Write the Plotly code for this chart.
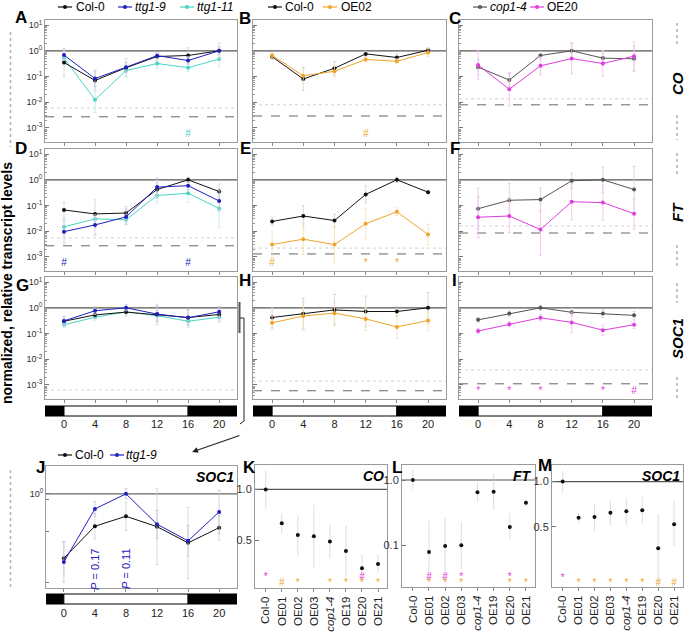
import plotly.graph_objects as go
import numpy as np

W, H = 686, 639
FONT = 'Liberation Sans, Arial, sans-serif'

hours = [0, 4, 8, 12, 16, 20]

# ---------------- CO (A-C) ----------------
co_col0_A = [0.35, 0.070, 0.22, 0.60, 0.66, 1.00]
co_ttg19 = [0.68, 0.083, 0.23, 0.65, 0.42, 1.00]
co_ttg111 = [0.52, 0.0125, 0.17, 0.32, 0.22, 0.48]
co_col0_B = [0.59, 0.080, 0.21, 0.76, 0.55, 1.05]
co_OE02 = [0.66, 0.107, 0.16, 0.46, 0.39, 0.86]
co_cop14 = [0.23, 0.073, 0.66, 1.00, 0.52, 0.49]
co_OE20 = [0.28, 0.032, 0.26, 0.50, 0.32, 0.62]
# error half-widths (decades)
co_col0_A_err = [0.55, 0.40, 0.35, 0.15, 0.30, 0.30]
co_ttg19_err = [0.20, 0.30, 0.20, 0.10, 0.15, 0.15]
co_ttg111_err = [0.25, 0.50, 0.25, 0.20, 0.15, 0.30]
co_col0_B_err = [0.10, 0.45, 0.25, 0.10, 0.15, 0.10]
co_OE02_err = [0.10, 0.30, 0.20, 0.10, 0.10, 0.15]
co_cop14_err = [0.30, 0.25, 0.15, 0.30, 0.30, 0.50]
co_OE20_err = [0.55, 0.65, 0.35, 0.60, 0.50, 0.55]

# ---------------- FT (D-F) ----------------
ft_col0_D = [0.067, 0.047, 0.051, 0.42, 1.00, 0.35]
ft_ttg19 = [0.0096, 0.0175, 0.036, 0.52, 0.59, 0.15]
ft_ttg111 = [0.0147, 0.030, 0.028, 0.245, 0.30, 0.077]
ft_col0_E = [0.024, 0.039, 0.026, 0.27, 1.00, 0.33]
ft_OE02 = [0.0030, 0.0049, 0.0030, 0.0196, 0.057, 0.0075]
ft_cop14 = [0.075, 0.16, 0.17, 0.92, 1.00, 0.42]
ft_OE20 = [0.035, 0.039, 0.0116, 0.14, 0.13, 0.048]
ft_col0_D_err = [0.30, 0.55, 0.25, 0.35, 0.10, 0.30]
ft_ttg19_err = [0.45, 0.40, 0.30, 0.35, 0.15, 0.40]
ft_ttg111_err = [0.30, 0.25, 0.15, 0.30, 0.35, 0.75]
ft_col0_E_err = [0.17, 0.40, 0.25, 0.33, 0.10, 0.08]
ft_OE02_err = [0.50, 0.60, 0.70, 0.60, 0.15, 0.40]
ft_cop14_err = [0.80, 0.65, 0.45, 0.30, 0.50, 0.90]
ft_OE20_err = [0.80, 0.65, 1.00, 0.70, 0.68, 0.60]

# ---------------- SOC1 (G-I) ----------------
soc_col0_G = [0.30, 0.53, 0.68, 0.55, 0.42, 0.55]
soc_ttg19 = [0.31, 0.77, 1.00, 0.57, 0.41, 0.70]
soc_ttg111 = [0.22, 0.43, 0.70, 0.49, 0.30, 0.43]
soc_col0_H = [0.42, 0.59, 0.83, 0.72, 0.72, 1.00]
soc_OE02 = [0.26, 0.48, 0.62, 0.37, 0.18, 0.32]
soc_cop14 = [0.34, 0.60, 1.00, 0.67, 0.60, 0.51]
soc_OE20 = [0.125, 0.23, 0.41, 0.27, 0.135, 0.22]
soc_col0_G_err = [0.20, 0.15, 0.15, 0.40, 0.30, 0.30]
soc_ttg19_err = [0.15, 0.15, 0.12, 0.30, 0.30, 0.20]
soc_ttg111_err = [0.12, 0.12, 0.10, 0.20, 0.25, 0.15]
soc_col0_H_err = [0.40, 0.60, 0.60, 0.60, 0.20, 0.60]
soc_OE02_err = [0.25, 0.55, 0.40, 0.45, 0.45, 0.40]
soc_cop14_err = [0.10, 0.10, 0.10, 0.15, 0.15, 0.15]
soc_OE20_err = [0.10, 0.10, 0.12, 0.40, 0.20, 0.15]

# ---------------- J: SOC1 zoom ----------------
j_col0 = [0.31, 0.555, 0.665, 0.55, 0.41, 0.54]
j_ttg19 = [0.29, 0.76, 1.00, 0.575, 0.425, 0.72]
j_col0_err = [0.13, 0.10, 0.11, 0.30, 0.28, 0.10]
j_ttg19_err = [0.16, 0.06, 0.04, 0.11, 0.12, 0.17]
j_pvals = [(4, '0.17'), (8, '0.11')]

# ---------------- K-M: lines ----------------
lines = ['Col-0', 'OE01', 'OE02', 'OE03', '<i>cop1-4</i>', 'OE19', 'OE20', 'OE21']
K_co = [1.0, 0.63, 0.535, 0.527, 0.49, 0.43, 0.34, 0.36]
K_hi = [1.29, 0.72, 0.70, 0.81, 0.62, 0.61, 0.41, 0.41]
K_lo = [0.77, 0.55, 0.40, 0.34, 0.39, 0.30, 0.29, 0.32]
L_ft = [1.0, 0.079, 0.097, 0.10, 0.65, 0.66, 0.19, 0.45]
L_hi = [1.43, 0.24, 0.26, 0.23, 0.91, 1.27, 0.31, 0.52]
L_lo = [0.72, 0.029, 0.027, 0.043, 0.46, 0.35, 0.12, 0.39]
M_soc = [1.0, 0.574, 0.58, 0.62, 0.634, 0.644, 0.36, 0.52]
M_hi = [1.18, 0.62, 0.71, 0.74, 0.77, 0.79, 0.61, 0.74]
M_lo = [0.84, 0.53, 0.47, 0.51, 0.51, 0.52, 0.21, 0.37]

# significance marks: (panel, x, symbol, colour key)
sig_time = [
    (1, 16, '#', 'turq'),
    (2, 12, '#', 'orange'),
    (4, 0, '#', 'blue'), (4, 16, '#', 'blue'),
    (5, 0, '#', 'orange'), (5, 12, '*', 'orange'), (5, 16, '*', 'orange'),
    (9, 0, '*', 'mag'), (9, 4, '*', 'mag'), (9, 8, '*', 'mag'), (9, 16, '*', 'mag'), (9, 20, '#', 'mag'),
]
sig_K_mag = [(0, '*'), (6, '#')]
sig_K_org = [(1, '#'), (2, '*'), (4, '*'), (5, '*'), (6, '*'), (7, '*')]
sig_L_mag = [(1, '#'), (2, '#'), (3, '*'), (6, '*')]
sig_L_org = [(1, '*'), (2, '*'), (3, '*'), (6, '*'), (7, '*')]
sig_M_mag = [(0, '*')]
sig_M_org = [(1, '*'), (2, '*'), (3, '*'), (4, '*'), (5, '*'), (6, '#'), (7, '#')]

# detection-limit reference levels per time panel (dashed, dotted)
dashed_lvl = {1: 2.7e-3, 2: 2.9e-3, 3: 7.9e-3, 4: 2.7e-3, 5: 1.3e-3, 6: 8.5e-3, 8: 5.9e-4, 9: 1.1e-3}
dotted_lvl = {1: 6.0e-3, 2: 7.9e-3, 3: 1.35e-2, 4: 5.5e-3, 5: 2.2e-3, 6: 1.6e-2, 7: 6.3e-4, 8: 1.4e-3, 9: 3.8e-3}

# legends: (panel group, entries)
legend_entries = {
    'A': [('Col-0', 'black'), ('<i>ttg1-9</i>', 'blue'), ('<i>ttg1-11</i>', 'turq')],
    'B': [('Col-0', 'black'), ('OE02', 'orange')],
    'C': [('<i>cop1-4</i>', 'gray'), ('OE20', 'mag')],
    'J': [('Col-0', 'black'), ('<i>ttg1-9</i>', 'blue')],
}

C = dict(black='#111111', blue='#2020c0', turq='#48d4c4', orange='#f0a428', gray='#555555', mag='#e03ce0')
EC = dict(black='#d2d2d2', blue='#c4c4ea', turq='#bdeee8', orange='#f7ddb0', gray='#d2d2d2', mag='#f3bcf3')

# panel boxes in px (x0, x1, y0, y1)
boxes = {1: (45, 237, 20, 142), 2: (253, 446, 20, 142), 3: (459, 652, 20, 142),
         4: (45, 237, 149, 271), 5: (253, 446, 149, 271), 6: (459, 652, 149, 271),
         7: (45, 237, 277, 399), 8: (253, 446, 277, 399), 9: (459, 652, 277, 399),
         10: (46, 237, 466, 588), 11: (255, 387, 465, 588), 12: (402, 535, 465, 587), 13: (552, 683, 465, 587)}

XR_T = [-2.45, 22.3]
XR_J = [-2.3, 22.3]
XR_C = [-0.67, 7.56]

fig = go.Figure()


def an(i):
    return '' if i == 1 else str(i)


def add_series(i, x, y, err, ck):
    y = np.array(y, dtype=float)
    e = np.array(err, dtype=float)
    fig.add_trace(go.Scatter(
        x=x, y=y, mode='lines+markers',
        line=dict(color=C[ck], width=1), marker=dict(color=C[ck], size=4),
        error_y=dict(type='data', symmetric=False, array=y * (10 ** e - 1), arrayminus=y * (1 - 10 ** (-e)),
                     color=EC[ck], thickness=0.8, width=1.5),
        xaxis='x' + an(i), yaxis='y' + an(i), showlegend=False))


def hline(i, xr, lvl, color, dash, width):
    fig.add_trace(go.Scatter(x=xr, y=[lvl, lvl], mode='lines', line=dict(color=color, dash=dash, width=width),
                             hoverinfo='skip', showlegend=False, xaxis='x' + an(i), yaxis='y' + an(i)))


# reference lines first (underneath)
for i in range(1, 10):
    hline(i, XR_T, 1.0, '#555555', 'solid', 1.2)
    if i in dashed_lvl:
        hline(i, XR_T, dashed_lvl[i], '#555555', 'dash', 0.9)
    if i in dotted_lvl:
        hline(i, XR_T, dotted_lvl[i], '#cccccc', 'dot', 0.9)
hline(10, XR_J, 1.0, '#666666', 'solid', 1.2)
for i in (11, 12, 13):
    hline(i, XR_C, 1.0, '#555555', 'solid', 1.2)

# A
add_series(1, hours, co_ttg111, co_ttg111_err, 'turq')
add_series(1, hours, co_col0_A, co_col0_A_err, 'black')
add_series(1, hours, co_ttg19, co_ttg19_err, 'blue')
# B
add_series(2, hours, co_col0_B, co_col0_B_err, 'black')
add_series(2, hours, co_OE02, co_OE02_err, 'orange')
# C
add_series(3, hours, co_cop14, co_cop14_err, 'gray')
add_series(3, hours, co_OE20, co_OE20_err, 'mag')
# D
add_series(4, hours, ft_ttg111, ft_ttg111_err, 'turq')
add_series(4, hours, ft_col0_D, ft_col0_D_err, 'black')
add_series(4, hours, ft_ttg19, ft_ttg19_err, 'blue')
# E
add_series(5, hours, ft_col0_E, ft_col0_E_err, 'black')
add_series(5, hours, ft_OE02, ft_OE02_err, 'orange')
# F
add_series(6, hours, ft_cop14, ft_cop14_err, 'gray')
add_series(6, hours, ft_OE20, ft_OE20_err, 'mag')
# G
add_series(7, hours, soc_ttg111, soc_ttg111_err, 'turq')
add_series(7, hours, soc_col0_G, soc_col0_G_err, 'black')
add_series(7, hours, soc_ttg19, soc_ttg19_err, 'blue')
# H
add_series(8, hours, soc_col0_H, soc_col0_H_err, 'black')
add_series(8, hours, soc_OE02, soc_OE02_err, 'orange')
# I
add_series(9, hours, soc_cop14, soc_cop14_err, 'gray')
add_series(9, hours, soc_OE20, soc_OE20_err, 'mag')
# J
add_series(10, hours, j_col0, j_col0_err, 'black')
add_series(10, hours, j_ttg19, j_ttg19_err, 'blue')

# significance in time panels
SIG_Y = 10 ** -3.24
for (i, x, s, ck) in sig_time:
    fig.add_trace(go.Scatter(x=[x], y=[SIG_Y], mode='text', text=[s], textposition='middle center',
                             textfont=dict(color=C[ck], size=10, family=FONT), showlegend=False,
                             hoverinfo='skip', xaxis='x' + an(i), yaxis='y' + an(i)))

# K-M dot plots
for i, vals, hi, lo in ((11, K_co, K_hi, K_lo), (12, L_ft, L_hi, L_lo), (13, M_soc, M_hi, M_lo)):
    v = np.array(vals); h = np.array(hi); l = np.array(lo)
    fig.add_trace(go.Scatter(x=list(range(len(lines))), y=v, mode='markers',
                             marker=dict(color='#111111', size=4),
                             error_y=dict(type='data', symmetric=False, array=h - v, arrayminus=v - l,
                                          color='#d4d4d4', thickness=0.8, width=0),
                             showlegend=False, xaxis='x' + an(i), yaxis='y' + an(i)))

for i, mag, org, ym, yo in ((11, sig_K_mag, sig_K_org, 0.30, 0.275), (12, sig_L_mag, sig_L_org, 0.0315, 0.0257),
                            (13, sig_M_mag, sig_M_org, 0.228, 0.209)):
    for lst, ck, yy in ((mag, 'mag', ym), (org, 'orange', yo)):
        fig.add_trace(go.Scatter(x=[p[0] for p in lst], y=[yy] * len(lst), mode='text', text=[p[1] for p in lst],
                                 textfont=dict(color=C[ck], size=10, family=FONT), showlegend=False,
                                 hoverinfo='skip', xaxis='x' + an(i), yaxis='y' + an(i)))

# ---------------- axes ----------------
lay = {}
dec_vals = [1e-3, 1e-2, 1e-1, 1e0, 1e1]
dec_text = ['10<sup>-3</sup>', '10<sup>-2</sup>', '10<sup>-1</sup>', '10<sup>0</sup>', '10<sup>1</sup>']
minor_vals = [m * 10.0 ** d for d in range(-4, 1) for m in range(2, 10)]

for i, (x0, x1, y0, y1) in boxes.items():
    xa = dict(domain=[x0 / W, x1 / W], anchor='y' + an(i), showline=True, mirror=True, linecolor='#9a9a9a',
              linewidth=1, showgrid=False, zeroline=False, ticks='outside', ticklen=3, tickcolor='#888',
              tickfont=dict(size=11, color='#222', family=FONT), fixedrange=True)
    ya = dict(domain=[1 - y1 / H, 1 - y0 / H], anchor='x' + an(i), type='log', showline=True, mirror=True,
              linecolor='#9a9a9a', linewidth=1, showgrid=False, zeroline=False, ticks='inside', ticklen=4,
              tickcolor='#777', tickfont=dict(size=9, color='#333', family=FONT), fixedrange=True)
    if i <= 9:
        xa.update(range=XR_T, tickmode='array', tickvals=hours, showticklabels=i >= 7, ticklabelstandoff=12)
        ya.update(range=[-3.55, 1.2], tickmode='array', tickvals=dec_vals, ticktext=dec_text,
                  showticklabels=i in (1, 4, 7),
                  minor=dict(tickmode='array', tickvals=minor_vals, ticks='inside', ticklen=2, tickcolor='#999'))
    elif i == 10:
        xa.update(range=XR_J, tickmode='array', tickvals=hours, ticklabelstandoff=12)
        ya.update(range=[-0.744, 0.22], tickmode='array', tickvals=[1], ticktext=['10<sup>0</sup>'],
                  minor=dict(tickmode='array', tickvals=[0.9, 0.5, 0.2], ticks='inside', ticklen=3,
                             tickcolor='#777'))
    else:
        xa.update(range=XR_C, tickmode='array', tickvals=list(range(len(lines))), ticktext=lines, tickangle=-90,
                  tickfont=dict(size=11.5, color='#222', family=FONT))
        if i == 11:
            ya.update(range=[-0.586, 0.145], tickvals=[1, 0.5], ticktext=['1.0', '0.5'])
        elif i == 12:
            ya.update(range=[-1.64, 0.23], tickvals=[1, 0.1], ticktext=['1.0', '0.1'])
        else:
            ya.update(range=[-0.702, 0.11], tickvals=[1, 0.5], ticktext=['1.0', '0.5'])
        ya.update(tickmode='array', tickfont=dict(size=11, color='#333', family=FONT))
    lay['xaxis' + an(i)] = xa
    lay['yaxis' + an(i)] = ya

# ---------------- shapes ----------------
shapes = []


def px(x):
    return x / W


def py(y):
    return 1 - y / H


# time bars
for i, xr, yb0, yb1 in ((7, XR_T, 406, 416), (8, XR_T, 406, 416), (9, XR_T, 406, 416), (10, XR_J, 594, 604)):
    xref = 'x' + an(i)
    shapes.append(dict(type='rect', xref=xref, yref='paper', x0=xr[0], x1=0, y0=py(yb1), y1=py(yb0),
                       fillcolor='black', line=dict(color='black', width=1)))
    shapes.append(dict(type='rect', xref=xref, yref='paper', x0=0, x1=16, y0=py(yb1), y1=py(yb0),
                       fillcolor='white', line=dict(color='black', width=1)))
    shapes.append(dict(type='rect', xref=xref, yref='paper', x0=16, x1=xr[1], y0=py(yb1), y1=py(yb0),
                       fillcolor='black', line=dict(color='black', width=1)))

# right-side dotted separators
for (a, b) in ((23, 47), (115, 140), (153, 177), (245, 268), (283, 303), (377, 398)):
    shapes.append(dict(type='line', xref='paper', yref='paper', x0=px(677), x1=px(677), y0=py(a), y1=py(b),
                       line=dict(color='#b0b0b0', width=1.5, dash='dot')))
# left dotted separators
for (a, b) in ((32, 147), (470, 590)):
    shapes.append(dict(type='line', xref='paper', yref='paper', x0=px(10.5), x1=px(10.5), y0=py(a), y1=py(b),
                       line=dict(color='#b0b0b0', width=1.5, dash='dot')))
# bracket on G
shapes.append(dict(type='line', xref='paper', yref='paper', x0=px(239.5), x1=px(239.5), y0=py(302), y1=py(333),
                   line=dict(color='#555', width=2)))
shapes.append(dict(type='path', xref='paper', yref='paper',
                   path='M {} {} L {} {} L {} {} L {} {}'.format(px(240), py(318), px(244), py(318), px(244),
                                                                  py(421), px(240), py(424)),
                   line=dict(color='#222', width=1)))

# ---------------- annotations ----------------
ann = []

# hand-drawn compact legends (symbol start x, text start x per entry; legend row y)
legend_layout = {'A': ([58, 118, 180], [74, 133, 195], 7), 'B': ([268, 323], [283, 339], 7),
                 'C': ([473, 530], [488, 545], 7), 'J': ([58, 110], [73, 124], 455)}
for key, entries in legend_entries.items():
    sx, tx, ly = legend_layout[key]
    for (name, ck), s0, t0 in zip(entries, sx, tx):
        shapes.append(dict(type='line', xref='paper', yref='paper', x0=px(s0), x1=px(s0 + 14), y0=py(ly), y1=py(ly),
                           line=dict(color=C[ck], width=1.2)))
        shapes.append(dict(type='circle', xref='paper', yref='paper', x0=px(s0 + 5), x1=px(s0 + 9),
                           y0=py(ly + 2), y1=py(ly - 2), fillcolor=C[ck], line=dict(color=C[ck], width=0)))
        ann.append(dict(text=name, x=px(t0), y=py(ly), xref='paper', yref='paper', showarrow=False,
                        xanchor='left', yanchor='middle', font=dict(size=12, color='black', family=FONT)))

for lab, x, y in (('A', 21, 18), ('B', 245, 19), ('C', 455, 19), ('D', 21, 148), ('E', 245, 148), ('F', 455, 148),
                  ('G', 22, 285), ('H', 245, 280), ('I', 454, 280), ('J', 40, 467), ('K', 250, 467),
                  ('L', 397, 467), ('M', 545, 465)):
    ann.append(dict(text='<b>' + lab + '</b>', x=px(x), y=py(y), xref='paper', yref='paper', showarrow=False,
                    font=dict(size=17, color='black', family=FONT), xanchor='center', yanchor='middle'))

for lab, y in (('CO', 84), ('FT', 212), ('SOC1', 339)):
    ann.append(dict(text='<b><i>' + lab + '</i></b>', x=px(677), y=py(y), xref='paper', yref='paper',
                    showarrow=False, textangle=-90, xanchor='center', yanchor='middle',
                    font=dict(size=15, color='black', family=FONT)))

ann.append(dict(text='<b>normalized, relative transcript levels</b>', x=px(7), y=py(283), xref='paper',
                yref='paper', showarrow=False, textangle=-90, xanchor='center', yanchor='middle',
                font=dict(size=14, color='black', family=FONT)))

for i, lab in ((10, 'SOC1'), (11, 'CO'), (12, 'FT'), (13, 'SOC1')):
    ann.append(dict(text='<b><i>' + lab + '</i></b>', x=1, y=1, xref='x' + an(i) + ' domain',
                    yref='y' + an(i) + ' domain', xanchor='right', yanchor='top', showarrow=False,
                    font=dict(size=14, color='black', family=FONT), xshift=-1, yshift=-1))

for hx, pv in j_pvals:
    ann.append(dict(text='<i>P</i> = ' + pv, x=hx, y=py(569), xref='x10', yref='paper', showarrow=False,
                    textangle=-90, xanchor='center', yanchor='middle',
                    font=dict(size=11, color=C['blue'], family=FONT)))

# arrow from G bracket to J
ann.append(dict(x=px(192), y=py(452), xref='paper', yref='paper', ax=49, ay=-17, showarrow=True, arrowhead=2,
                arrowsize=1, arrowwidth=1.2, arrowcolor='#222', text=''))

fig.update_layout(width=W, height=H, margin=dict(l=0, r=0, t=0, b=0), paper_bgcolor='white',
                  plot_bgcolor='white', font=dict(family=FONT), shapes=shapes, annotations=ann,
                  showlegend=False, **lay)

fig.write_html('out.html', config={'displayModeBar': False},
               post_script="document.body.style.margin='0px';document.body.style.padding='0px';")
